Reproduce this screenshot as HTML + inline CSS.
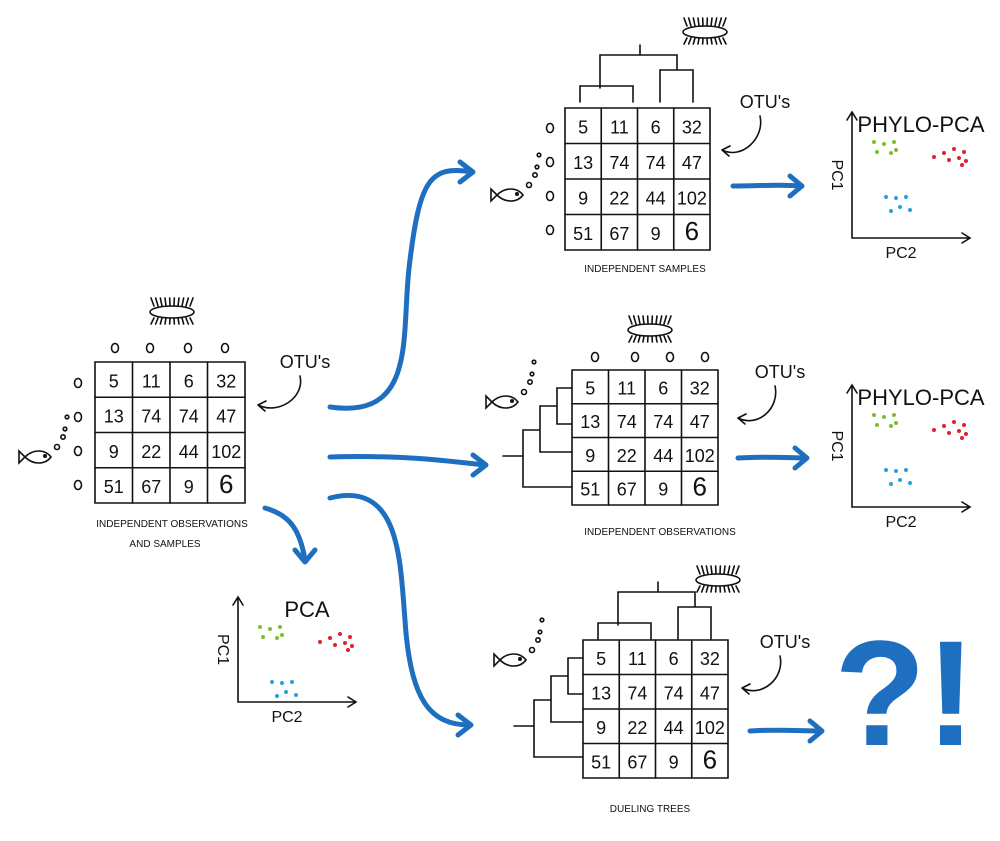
<!DOCTYPE html>
<html><head><meta charset="utf-8"><style>
body{margin:0;background:#fff}
svg{display:block}
text{font-family:"Liberation Sans",sans-serif;fill:#111}
</style></head><body>
<svg id="s" width="1000" height="841" viewBox="0 0 1000 841">
<g id="g" fill="none" stroke="#111" stroke-width="1.6" stroke-linecap="round"></g>
</svg>
<script>
const nums=[["5","11","6","32"],["13","74","74","47"],["9","22","44","102"],["51","67","9","6"]];
const greenX=[0,1,2,0.3,1.7,2.2];const greenY=[0,0.2,0,1,1.1,0.8];
const redX=[0,1,2,3,1.5,2.5,3.2,2.8];const redY=[1,0.6,0.2,0.5,1.3,1.1,1.4,1.8];
const blueX=[0.2,1.2,2.2,1.6,0.7,2.6];const blueY=[0,0.1,0,1,1.4,1.3];
const S=document.getElementById('s'),G=document.getElementById('g');
const NS='http://www.w3.org/2000/svg';
function el(t,a,p,name){const e=document.createElementNS(NS,t);for(const k in a)e.setAttribute(k,a[k]);


(p||G).appendChild(e);return e;}
function txt(x,y,s,size,name,rot){const e=el('text',{x:x,y:y,'font-size':size,'text-anchor':'middle'},S,name);e.textContent=s;if(rot)e.setAttribute('transform','rotate('+rot+' '+x+' '+y+')');return e;}
function line(p,name){return el('path',{d:p},G,name);}
function table(x,y,w,h,name){
  const cw=w/4,ch=h/4;
  line(`M${x} ${y}h${w}v${h}h${-w}z`,name+'-border');
  for(let i=1;i<4;i++){line(`M${x+cw*i} ${y}v${h}`,name+'-col-line');line(`M${x} ${y+ch*i}h${w}`,name+'-row-line');}
  for(let r=0;r<4;r++)for(let c=0;c<4;c++)txt(x+cw*c+cw/2,y+ch*r+ch*0.72,nums[r][c],r==3&&c==3?26:18,name+'-cell');
}
function fish(x,y,name){line(`M${x} ${y}c8-8 20-8 26 0c-6 8-18 8-26 0zM${x} ${y}l-6-6v12z`,name);
  el('circle',{cx:x+20,cy:y-1,r:1.2,fill:'#111'},G,name+'-eye');
  [[32,-10,2.5],[38,-20,2.2],[40,-28,1.8],[42,-40,1.8]].forEach(b=>el('circle',{cx:x+b[0],cy:y+b[1],r:b[2]},G,name+'-bubble'));}
function bact(x,y,name){el('ellipse',{cx:x,cy:y,rx:22,ry:6},G,name);
  let d='';for(let i=-18;i<=18;i+=4){d+=`M${x+i} ${y-6}l${i/6} -8M${x+i} ${y+6}l${i/6} 6`;}line(d,name+'-cilia');}
function zeros(xs,ys,name){xs.forEach((a,i)=>el('ellipse',{cx:a,cy:ys[i],rx:3.5,ry:4.5},G,name));}
function arrowBlue(d,tip,name){el('path',{d:d,stroke:'#1f6fc0','stroke-width':5,fill:'none'},G,name);
  el('path',{d:tip,stroke:'#1f6fc0','stroke-width':5,fill:'none','stroke-linejoin':'round'},G,name+'-head');}
function otu(x,y,ax,ay,name){txt(x,y,"OTU's",18,name+'-label');line(`M${x-5} ${y+8}C${x} ${y+30} ${ax+20} ${ay+10} ${ax} ${ay}M${ax} ${ay}l8-4M${ax} ${ay}l7 6`,name+'-arrow');}
function topTree(dx,dy,name){line(`M${640+dx} ${45+dy}v10M${600+dx} ${88+dy}v-33h${77}v15M${580+dx} ${102+dy}v-16h${53}v16M${660+dx} ${102+dy}v-32h${33}v32`,name);}
function leftTree(dx,dy,name){line(`M${572+dx} ${388+dy}h-15v36h15M${557+dx} ${406+dy}h-17v46h32M${540+dx} ${430+dy}h-17v57h49M${523+dx} ${456+dy}h-20`,name);}
function plot(x0,y0,w,h,title,name){
  line(`M${x0} ${y0}v${h}h${w}M${x0-5} ${y0+8}l5-8 5 8M${x0+w-8} ${y0+h-5}l8 5-8 5`,name+'-axes');
  txt(x0+w/2+10,y0+20,title,22,name+'-title');
  txt(x0-20,y0+h/2,'PC1',16,name+'-y-title',90);
  txt(x0+w/2-10,y0+h+20,'PC2',16,name+'-x-title');
  const sc=10;
  greenX.forEach((v,i)=>el('circle',{cx:x0+22+v*sc,cy:y0+30+greenY[i]*sc,r:2,fill:'#7cbf2c',stroke:'none'},G,name+'-green-point'));
  redX.forEach((v,i)=>el('circle',{cx:x0+82+v*sc,cy:y0+35+redY[i]*sc,r:2,fill:'#e0212c',stroke:'none'},G,name+'-red-point'));
  blueX.forEach((v,i)=>el('circle',{cx:x0+32+v*sc,cy:y0+85+blueY[i]*sc,r:2,fill:'#2a9fd8',stroke:'none'},G,name+'-blue-point'));
}
// left
table(95,362,150,141,'left-table');
zeros([115,150,188,225],[348,348,348,348],'left-top-zero');
zeros([78,78,78,78],[383,417,451,485],'left-side-zero');
fish(25,457,'left-fish');bact(172,312,'left-bacterium');
otu(305,368,258,405,'left-otu');
txt(172,527,'INDEPENDENT OBSERVATIONS',10,'left-caption');txt(165,547,'AND SAMPLES',10,'left-caption2');
// top
table(565,108,145,142,'top-table');
topTree(0,0,'top-dendrogram');
bact(705,32,'top-bacterium');zeros([550,550,550,550],[128,162,196,230],'top-side-zero');
fish(497,195,'top-fish');otu(765,108,722,150,'top-otu');
txt(645,272,'INDEPENDENT SAMPLES',10,'top-caption');
arrowBlue('M733 186C760 186 780 184 800 186','M790 176l12 10-12 10','top-right-arrow');
plot(852,112,118,126,'PHYLO-PCA','top-plot');
// middle
table(572,370,146,135,'middle-table');
zeros([595,635,670,705],[357,357,357,357],'middle-top-zero');
bact(650,330,'middle-bacterium');
leftTree(0,0,'middle-dendrogram');
fish(492,402,'middle-fish');otu(780,378,738,418,'middle-otu');
txt(660,535,'INDEPENDENT OBSERVATIONS',10,'middle-caption');
arrowBlue('M738 458C770 456 790 458 805 458','M795 448l12 10-12 10','middle-right-arrow');
plot(852,385,118,122,'PHYLO-PCA','middle-plot');
// bottom
table(583,640,145,138,'bottom-table');
topTree(18,537,'bottom-dendrogram');
leftTree(11,270,'bottom-left-dendrogram');
bact(718,580,'bottom-bacterium');fish(500,660,'bottom-fish');
otu(785,648,742,688,'bottom-otu');
txt(650,812,'DUELING TREES',10,'bottom-caption');
arrowBlue('M750 731C780 729 800 731 820 731','M810 721l12 10-12 10','bottom-right-arrow');
const q=txt(905,745,'?!',150,'question-exclamation');q.setAttribute('style','fill:#1f6fc0;font-weight:bold');
// PCA
plot(238,597,118,105,'PCA','pca-plot');
// blue arrows from left
arrowBlue('M330 407C420 420 400 330 410 260C420 180 430 165 472 172','M460 162l13 10-13 10','arrow-to-top');
arrowBlue('M330 457C400 455 440 460 485 465','M473 455l13 10-13 10','arrow-to-middle');
arrowBlue('M330 498C400 480 400 560 405 620C410 700 430 725 470 725','M458 715l13 10-13 10','arrow-to-bottom');
arrowBlue('M265 508C290 515 300 530 305 560','M295 550l10 12 10-12','arrow-to-pca');
</script>
</body></html>
